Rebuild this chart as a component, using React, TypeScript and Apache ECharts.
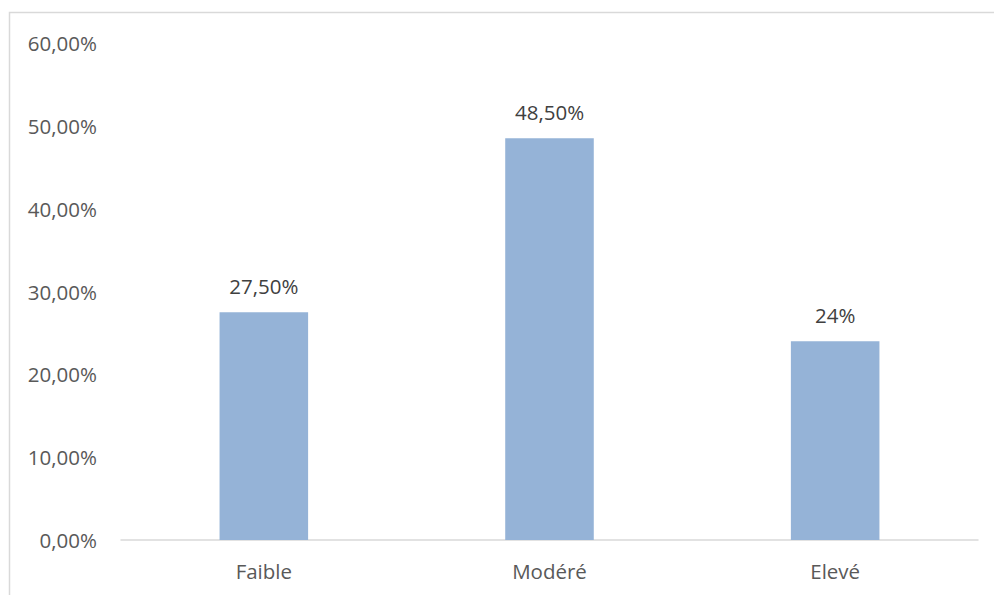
import React, { useEffect, useRef } from "react";
import * as echarts from "echarts";

const categories = ["Faible", "Modéré", "Elevé"];
const values = [27.5, 48.5, 24];
const valueLabels = ["27,50%", "48,50%", "24%"];
const yTicks = { min: 0, max: 60, interval: 10 };

export default function App() {
  const ref = useRef<HTMLDivElement>(null);
  useEffect(() => {
    document.body.style.margin = "0";
    const chart = echarts.init(ref.current!, null, { renderer: "svg" });
    const font = "'Open Sans', 'Noto Sans', sans-serif";
    chart.setOption({
      animation: false,
      backgroundColor: "#ffffff",
      graphic: [
        {
          type: "rect",
          shape: { x: 9.5, y: 12.5, width: 1100, height: 700 },
          style: { fill: "none", stroke: "#d9d9d9", lineWidth: 1.5 },
          silent: true,
        },
      ],
      grid: { left: 121, right: 16, top: 43, bottom: 55 },
      xAxis: {
        type: "category",
        data: categories,
        axisLine: { lineStyle: { color: "#d9d9d9", width: 1.5 } },
        axisTick: { show: false },
        axisLabel: { color: "#595959", fontSize: 20.5, fontFamily: font, margin: 20 },
      },
      yAxis: {
        type: "value",
        min: yTicks.min,
        max: yTicks.max,
        interval: yTicks.interval,
        axisLine: { show: false },
        axisTick: { show: false },
        splitLine: { show: false },
        axisLabel: {
          color: "#595959",
          fontSize: 20.5,
          fontFamily: font,
          margin: 24,
          formatter: (v: number) => v.toFixed(2).replace(".", ",") + "%",
        },
      },
      series: [
        {
          type: "bar",
          data: values,
          barWidth: "31%",
          itemStyle: { color: "#95b3d7" },
          label: {
            show: true,
            position: "top",
            distance: 16,
            color: "#404040",
            fontSize: 20.5,
            fontFamily: font,
            formatter: (p: any) => valueLabels[p.dataIndex],
          },
        },
      ],
    });
    return () => chart.dispose();
  }, []);
  return <div ref={ref} style={{ width: 994, height: 595 }} />;
}
